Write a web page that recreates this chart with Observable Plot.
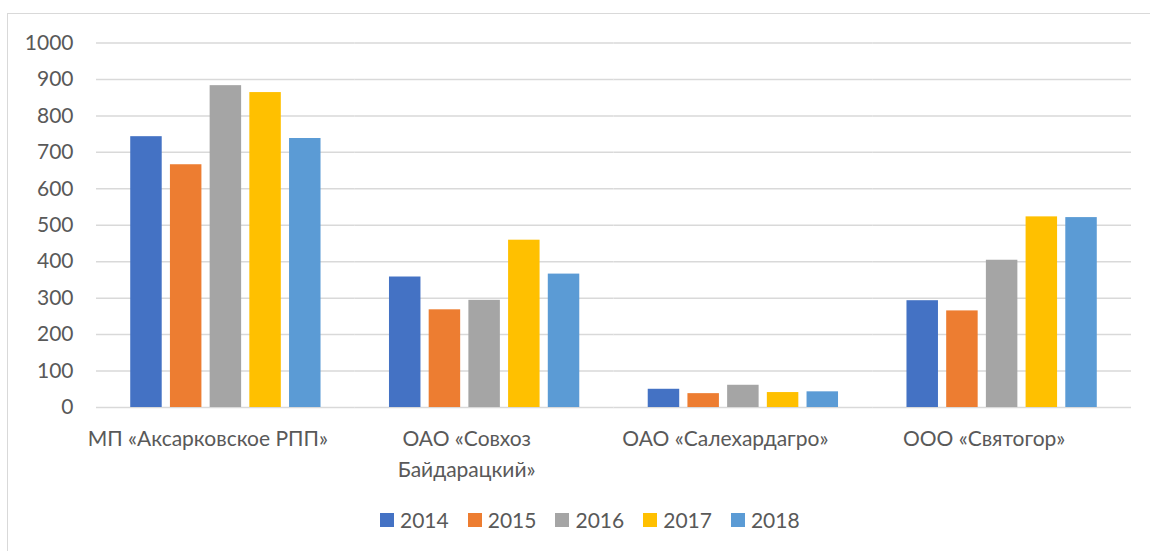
<!DOCTYPE html>
<html>
<head>
<meta charset="utf-8">
<script src="https://cdn.jsdelivr.net/npm/d3@7"></script>
<script src="https://cdn.jsdelivr.net/npm/@observablehq/plot@0.6"></script>
<style>
  html, body { margin: 0; padding: 0; background: #fff; overflow: hidden; }
  body { font-family: Lato, "Open Sans", sans-serif; width: 1150px; height: 551px; position: relative; }
  #frame { position: absolute; left: 7px; top: 13px; width: 1170px; height: 620px; border: 1px solid #d9d9d9; box-sizing: border-box; }
  #chart { position: absolute; left: 0; top: 0; }
  #legend { position: absolute; left: 380px; top: 507px; display: flex; align-items: center; font-size: 21px; color: #595959; }
  .item { display: flex; align-items: center; margin-right: 19px; }
  .sw { width: 14px; height: 14px; margin-right: 6px; }
</style>
</head>
<body>
<div id="frame"></div>
<div id="chart"></div>
<div id="legend"></div>
<script>
const categories = ["МП «Аксарковское РПП»", "ОАО «Совхоз Байдарацкий»", "ОАО «Салехардагро»", "ООО «Святогор»"];
const categoryLabels = ["МП «Аксарковское РПП»", "ОАО «Совхоз\nБайдарацкий»", "ОАО «Салехардагро»", "ООО «Святогор»"];
const years = ["2014", "2015", "2016", "2017", "2018"];
const v2014 = [743, 358, 50, 293];
const v2015 = [666, 268, 38, 265];
const v2016 = [883, 294, 61, 404];
const v2017 = [864, 459, 41, 523];
const v2018 = [738, 366, 43, 521];
const yTicks = [0, 100, 200, 300, 400, 500, 600, 700, 800, 900, 1000];
const colors = ["#4472C4", "#ED7D31", "#A5A5A5", "#FFC000", "#5B9BD5"];

const series = [v2014, v2015, v2016, v2017, v2018];
const data = [];
categories.forEach((c, i) => {
  years.forEach((y, j) => data.push({category: c, year: y, value: series[j][i]}));
});
const labelOf = new Map(categories.map((c, i) => [c, categoryLabels[i]]));

const chart = Plot.plot({
  width: 1150,
  height: 495,
  marginLeft: 96,
  marginRight: 19,
  marginTop: 42.5,
  marginBottom: 88,
  style: {fontFamily: "Lato, 'Open Sans', sans-serif", color: "#595959", background: "transparent"},
  fx: {domain: categories, padding: 0, label: null, round: false},
  x: {domain: years, paddingInner: 0.207, paddingOuter: 0.862, axis: null, round: false},
  y: {domain: [0, 1000], label: null},
  color: {domain: years, range: colors},
  marks: [
    Plot.ruleY(yTicks, {stroke: "#d9d9d9", strokeWidth: 1.5}),
    Plot.barY(data, {fx: "category", x: "year", y: "value", fill: "year"}),
    Plot.axisY(yTicks, {anchor: "left", tickSize: 0, tickPadding: 23, fontSize: 21, color: "#595959", label: null, tickFormat: d => String(d)}),
    Plot.axisFx({anchor: "bottom", tickSize: 0, tickPadding: 17, dx: -18, fontSize: 21, lineHeight: 1.45, color: "#595959", label: null, tickFormat: d => labelOf.get(d)})
  ]
});
document.getElementById("chart").appendChild(chart);

const legend = document.getElementById("legend");
years.forEach((y, i) => {
  const it = document.createElement("div");
  it.className = "item";
  const sw = document.createElement("div");
  sw.className = "sw";
  sw.style.background = colors[i];
  const t = document.createElement("span");
  t.textContent = y;
  it.appendChild(sw);
  it.appendChild(t);
  legend.appendChild(it);
});
</script>
</body>
</html>
